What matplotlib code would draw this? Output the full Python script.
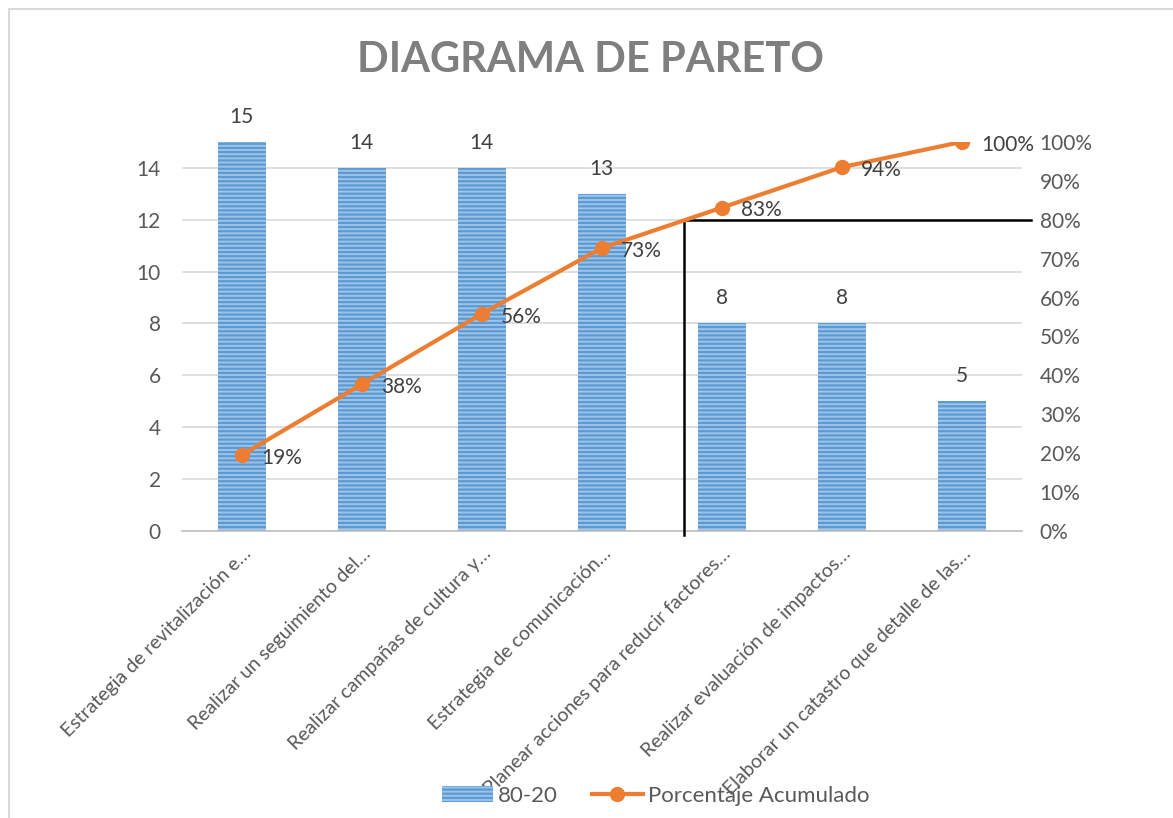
import matplotlib.pyplot as plt
from matplotlib.patches import Patch, Rectangle
from matplotlib.lines import Line2D

plt.rcParams['font.family'] = ['Lato', 'DejaVu Sans']
plt.rcParams['hatch.linewidth'] = 1.6

# datos
categorias = ['Estrategia de revitalización e…',
              'Realizar un seguimiento del…',
              'Realizar campañas de cultura y…',
              'Estrategia de comunicación…',
              'Planear acciones para reducir factores…',
              'Realizar evaluación de impactos…',
              'Elaborar un catastro que detalle de las…']
frecuencia = [15, 14, 14, 13, 8, 8, 5]
acumulado = [0.195, 0.377, 0.558, 0.727, 0.831, 0.935, 1.0]
etiquetas_acum = ['19%', '38%', '56%', '73%', '83%', '94%', '100%']

gris = '#595959'
gris_osc = '#404040'
azul = '#9DC3E6'
azul_osc = '#5B9BD5'
naranja = '#ED7D31'

fig = plt.figure(figsize=(11.73, 8.18), dpi=100)
ax = fig.add_axes([0.155, 0.351, 0.716, 0.4755])
ax2 = ax.twinx()

x = list(range(len(categorias)))
barras = ax.bar(x, frecuencia, width=0.4, color=azul, edgecolor=azul_osc,
                linewidth=0, hatch='----', zorder=2)
ax.bar_label(barras, padding=11, fontsize=15, color=gris_osc)

ax.set_xlim(-0.5, len(categorias) - 0.5)
ax.set_ylim(0, 15)
ax.set_yticks(range(0, 15, 2))
ax.grid(axis='y', color='#d9d9d9', linewidth=1.2, zorder=0)
ax.set_axisbelow(True)
ax.tick_params(axis='y', length=0, labelsize=15, labelcolor=gris, pad=15)
ax.tick_params(axis='x', length=0, labelsize=14, labelcolor=gris, pad=10)
ax.set_xticks(x)
ax.set_xticklabels(categorias, rotation=45, ha='right', va='top',
                   rotation_mode='anchor')
for s in ['top', 'right', 'left']:
    ax.spines[s].set_visible(False)
    ax2.spines[s].set_visible(False)
ax.spines['bottom'].set_color('#bfbfbf')
ax.spines['bottom'].set_linewidth(1.2)
ax2.spines['bottom'].set_visible(False)

ax2.plot(x, acumulado, color=naranja, linewidth=3, marker='o',
         markersize=10, zorder=3)
for xi, yi, t in zip(x, acumulado, etiquetas_acum):
    ax2.annotate(t, (xi, yi), xytext=(14, -2), textcoords='offset points',
                 ha='left', va='center', fontsize=15, color=gris_osc)
ax2.set_ylim(0, 1)
ax2.set_yticks([i / 10 for i in range(11)])
ax2.set_yticklabels([f'{i * 10}%' for i in range(11)])
ax2.tick_params(axis='y', length=0, labelsize=15, labelcolor=gris, pad=13)

# lineas del 80-20
xc = 3.683
ax.plot([xc, xc], [-0.15, 12], color='black', linewidth=1.8,
        clip_on=False, zorder=4)
ax.plot([xc, 6.575], [12, 12], color='black', linewidth=1.8,
        clip_on=False, zorder=4)

fig.text(0.503, 0.927, 'DIAGRAMA DE PARETO', ha='center', va='center',
         fontsize=30, fontweight='bold', color='#7f7f7f')

handles = [Patch(facecolor=azul, edgecolor=azul_osc, linewidth=0, hatch='----'),
           Line2D([0], [0], color=naranja, linewidth=3, marker='o', markersize=10)]
fig.legend(handles, ['80-20', 'Porcentaje Acumulado'], loc='center',
           bbox_to_anchor=(0.559, 0.027), ncol=2, frameon=False, fontsize=16,
           labelcolor=gris, handlelength=2.3, columnspacing=1.5,
           handletextpad=0.25)

fig.add_artist(Rectangle((9 / 1173, -0.02), 1.1, 1.02 - 9 / 818,
                         transform=fig.transFigure, fill=False,
                         edgecolor='#d9d9d9', linewidth=1.5))

fig.savefig('out.png', dpi=100)
